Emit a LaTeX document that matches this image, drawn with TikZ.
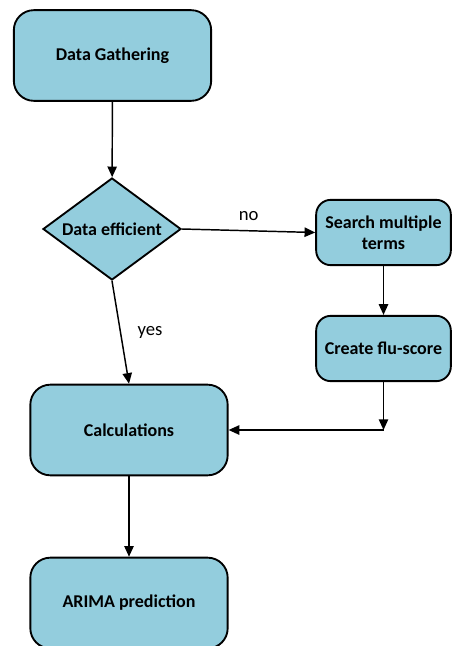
\documentclass[tikz,border=0pt]{standalone}
\usepackage{fontspec}
\setmainfont{Carlito}
\usetikzlibrary{shapes.geometric,arrows.meta}
\definecolor{boxblue}{RGB}{147,205,221}
\newcommand{\flowarrowstyle}{-{Triangle[length=8pt,width=7pt]}}

\begin{document}
\begin{tikzpicture}[
    x=0.75pt, y=-0.75pt,
    font=\fontsize{14}{15.5}\selectfont,
    flow/.style={\flowarrowstyle, line width=1.1pt},
    stepbox/.style={draw, line width=1.4pt, fill=boxblue, rounded corners=15pt,
      minimum width=148pt, minimum height=68pt, align=center, font=\fontsize{13.5}{15.5}\selectfont\bfseries},
    sidebox/.style={stepbox, rounded corners=11pt, minimum width=101pt, minimum height=49pt, inner xsep=0pt},
    decide/.style={draw, line width=1.4pt, fill=boxblue, diamond, inner sep=0pt,
      minimum width=103.5pt, minimum height=76.5pt}
]
  \clip (0,0) rectangle (452,646);

  \node[stepbox] (gather) at (112.5,55.5) {Data Gathering};
  \node[decide, label={[font=\fontsize{13.5}{15.5}\selectfont\bfseries]center:Data efficient}] (efficient) at (112,229) {};
  \node[sidebox] (search) at (383.5,232.5) {Search multiple\\terms};
  \node[sidebox] (flu) at (383.5,348.5) {Create flu-score};
  \coordinate (join) at (383.5,430);
  \node[stepbox] (calc) at (129,430) {Calculations};
  \node[stepbox] (arima) at (129,603) {ARIMA prediction};

  \draw[flow] (gather) -- (efficient);
  \draw[flow] (efficient.east) -- node[above=4pt] {no} (search.west);
  \draw[flow] (search) -- (flu);
  \draw[flow] (flu) -- (join);
  \draw[flow] (join) -- (calc.east);
  \draw[flow] (efficient.south) -- node[right=9pt] {yes} (calc.north);
  \draw[flow] (calc) -- (arima);
\end{tikzpicture}
\end{document}
